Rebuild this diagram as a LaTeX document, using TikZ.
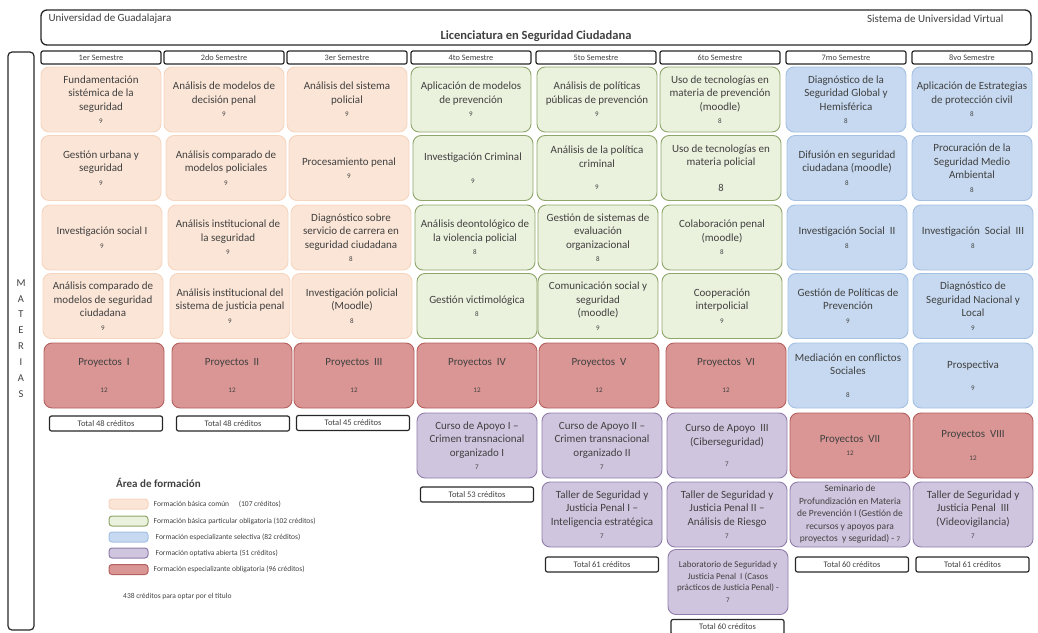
\documentclass[tikz,border=0pt]{standalone}
\usepackage{fontspec}
\setmainfont{Carlito}
\usetikzlibrary{positioning}
\definecolor{txt}{HTML}{404040}
\definecolor{peachF}{HTML}{FBE5D6}
\definecolor{peachD}{HTML}{F6D5BF}
\definecolor{greenF}{HTML}{EAF1DD}
\definecolor{greenD}{HTML}{8FA66A}
\definecolor{blueF}{HTML}{C6D9F0}
\definecolor{blueD}{HTML}{A4C0E3}
\definecolor{lilaF}{HTML}{D0C5DE}
\definecolor{lilaD}{HTML}{8F7DAA}
\definecolor{redF}{HTML}{D99694}
\definecolor{redD}{HTML}{B5605E}
\tikzset{
  course/.style={rounded corners=8pt, minimum width=120pt, minimum height=65pt, align=center,
    inner sep=2pt, line width=0.9pt, text=txt, font=\fontsize{11}{13.5}\selectfont},
  comun/.style={course, fill=peachF, draw=peachD},
  particular/.style={course, fill=greenF, draw=greenD},
  selectiva/.style={course, fill=blueF, draw=blueD},
  optativa/.style={course, fill=lilaF, draw=lilaD},
  obligatoria/.style={course, fill=redF, draw=redD},
  semhead/.style={draw=black!85, line width=1.2pt, rounded corners=2pt, minimum width=120pt,
    minimum height=13pt, inner sep=0pt, text=txt, font=\fontsize{8.3}{9}\selectfont},
  totalbox/.style={semhead, minimum width=113pt, minimum height=15pt, font=\fontsize{8.5}{9}\selectfont},
  swatch/.style={rounded corners=3pt, minimum width=39pt, minimum height=10pt, inner sep=0pt, line width=1pt},
  legtext/.style={right=5pt of #1, inner sep=0pt, text=txt, font=\fontsize{7.5}{9}\selectfont}
}
\newcommand{\cred}[2][0pt]{\\[#1]{\fontsize{7}{8}\selectfont #2}}
\begin{document}
\begin{tikzpicture}[x=1pt, y=-1pt]
  \useasboundingbox (0,0) rectangle (1038,632);
  % encabezado
  \draw[black!85, line width=1.3pt, rounded corners=6pt] (41,10) rectangle (1031,45);
  \node[anchor=west, text=txt, font=\fontsize{11}{13}\selectfont] (uni) at (45,19) {Universidad de Guadalajara};
  \node[anchor=east, text=txt, font=\fontsize{11}{13}\selectfont] (suv) at (1007,19) {Sistema de Universidad Virtual};
  \node[text=txt, font=\fontsize{12.5}{14}\selectfont\bfseries] (lic) at (536,36) {Licenciatura en Seguridad Ciudadana};
  % columna lateral
  \draw[black!85, line width=1.2pt, rounded corners=4pt] (8,52) rectangle (34,630);
  \node[align=center, text=txt, font=\fontsize{10.5}{15.9}\selectfont] (materias) at (21,338.5) {M\\A\\T\\E\\R\\I\\A\\S};
  % semestres
  \foreach \x/\s [count=\i] in {101/1er, 224/2do, 347/3er, 471/4to, 596/5to, 720/6to, 846/7mo, 972/8vo}
    \node[semhead] (s\i) at (\x,57.5) {\s\ Semestre};

  % 1er semestre
  \node[comun] (c1a) at (101,99.5) {Fundamentación\\sistémica de la\\seguridad\cred{9}};
  \node[comun] (c1b) at (101,168) {Gestión urbana y\\seguridad\cred{9}};
  \node[comun] (c1c) at (102,237.5) {Investigación social I\cred{9}};
  \node[comun] (c1d) at (103,306) {Análisis comparado de\\modelos de seguridad\\ciudadana\cred{9}};
  \node[obligatoria] (c1e) at (104,375.5) {Proyectos\ \ I\cred[14pt]{12}};
  \node[totalbox] (t1) at (106,423.5) {Total 48 créditos};
  % 2do semestre
  \node[comun] (c2a) at (224,99.5) {Análisis de modelos de\\decisión penal\cred{9}};
  \node[comun] (c2b) at (226,168) {Análisis comparado de\\modelos policiales\cred{9}};
  \node[comun] (c2c) at (228,237.5) {Análisis institucional de\\la seguridad\cred{9}};
  \node[comun] (c2d) at (230,306) {Análisis institucional del\\sistema de justicia penal\cred{9}};
  \node[obligatoria] (c2e) at (232,375.5) {Proyectos\ \ II\cred[14pt]{12}};
  \node[totalbox] (t2) at (233,423.5) {Total 48 créditos};
  % 3er semestre
  \node[comun] (c3a) at (347,99.5) {Análisis del sistema\\policial\cred{9}};
  \node[comun] (c3b) at (349,168) {Procesamiento penal\cred{9}};
  \node[comun] (c3c) at (351,237.5) {Diagnóstico sobre\\servicio de carrera en\\seguridad ciudadana\cred{8}};
  \node[comun] (c3d) at (352,306) {Investigación policial\\(Moodle)\cred{8}};
  \node[obligatoria] (c3e) at (354,375.5) {Proyectos\ \ III\cred[14pt]{12}};
  \node[totalbox] (t3) at (353,423) {Total 45 créditos};
  % 4to semestre
  \node[particular] (c4a) at (471,99.5) {Aplicación de modelos\\de prevención\cred{9}};
  \node[particular] (c4b) at (473,168) {Investigación Criminal\cred[9pt]{9}};
  \node[particular] (c4c) at (475,237.5) {Análisis deontológico de\\la violencia policial\cred{8}};
  \node[particular] (c4d) at (477,306) {Gestión victimológica\cred{8}};
  \node[obligatoria] (c4e) at (477,375.5) {Proyectos\ \ IV\cred[14pt]{12}};
  \node[optativa] (c4f) at (477,445.5) {Curso de Apoyo I –\\Crimen transnacional\\organizado I\cred{7}};
  \node[totalbox] (t4) at (477,494.5) {Total 53 créditos};
  % 5to semestre
  \node[particular] (c5a) at (597,99.5) {Análisis de políticas\\públicas de prevención\cred{9}};
  \node[particular] (c5b) at (597,168) {Análisis de la política\\criminal\cred[9pt]{9}};
  \node[particular] (c5c) at (598,237.5) {Gestión de sistemas de\\evaluación\\organizacional\cred{8}};
  \node[particular] (c5d) at (598,306) {Comunicación social y\\seguridad\\(moodle)\cred{9}};
  \node[obligatoria] (c5e) at (599,375.5) {Proyectos\ \ V\cred[14pt]{12}};
  \node[optativa] (c5f) at (602,445.5) {Curso de Apoyo II –\\Crimen transnacional\\organizado II\cred{7}};
  \node[optativa] (c5g) at (602,514.5) {Taller de Seguridad y\\Justicia Penal I –\\Inteligencia estratégica\cred{7}};
  \node[totalbox] (t5) at (602,564.5) {Total 61 créditos};
  % 6to semestre
  \node[particular] (c6a) at (720,99.5) {Uso de tecnologías en\\materia de prevención\\(moodle)\cred{8}};
  \node[particular] (c6b) at (721,168) {Uso de tecnologías en\\materia policial\\[12pt]{\fontsize{10.5}{12}\selectfont 8}};
  \node[particular] (c6c) at (722,237.5) {Colaboración penal\\(moodle)\cred{8}};
  \node[particular] (c6d) at (722,306) {Cooperación\\interpolicial\cred{9}};
  \node[obligatoria] (c6e) at (726,375.5) {Proyectos\ \ VI\cred[14pt]{12}};
  \node[optativa] (c6f) at (727,445.5) {Curso de Apoyo\ \ III\\(Ciberseguridad)\cred[8pt]{7}};
  \node[optativa] (c6g) at (727,514.5) {Taller de Seguridad y\\Justicia Penal II –\\Análisis de Riesgo\cred{7}};
  \node[optativa, font=\fontsize{9}{11.7}\selectfont] (c6h) at (728,582)
    {Laboratorio de Seguridad y\\Justicia Penal\ \ I (Casos\\prácticos de Justicia Penal) -\cred{7}};
  \node[totalbox] (t6) at (727.5,627) {Total 60 créditos};
  % 7mo semestre
  \node[selectiva] (c7a) at (846,99.5) {Diagnóstico de la\\Seguridad Global y\\Hemisférica\cred{8}};
  \node[selectiva] (c7b) at (847,168) {Difusión en seguridad\\ciudadana (moodle)\cred{8}};
  \node[selectiva] (c7c) at (847,237.5) {Investigación Social\ \ II\cred{8}};
  \node[selectiva] (c7d) at (848,306) {Gestión de Políticas de\\Prevención\cred{9}};
  \node[selectiva] (c7e) at (848,375.5) {Mediación en conflictos\\Sociales\cred[9pt]{8}};
  \node[obligatoria] (c7f) at (850,445.5) {Proyectos\ \ VII\cred{12}};
  \node[optativa, font=\fontsize{9.5}{12.5}\selectfont] (c7g) at (850,514.5)
    {Seminario de\\Profundización en Materia\\de Prevención I (Gestión de\\recursos y apoyos para\\proyectos\ \ y seguridad) - {\fontsize{7}{8}\selectfont 7}};
  \node[totalbox] (t7) at (852,564.5) {Total 60 créditos};
  % 8vo semestre
  \node[selectiva] (c8a) at (972,99.5) {Aplicación de Estrategias\\de protección civil\cred{8}};
  \node[selectiva] (c8b) at (972,168) {Procuración de la\\Seguridad Medio\\Ambiental\cred{8}};
  \node[selectiva] (c8c) at (973,237.5) {Investigación\ \ Social\ \ III\cred{8}};
  \node[selectiva] (c8d) at (973,306) {Diagnóstico de\\Seguridad Nacional y\\Local\cred{9}};
  \node[selectiva] (c8e) at (973,375.5) {Prospectiva\cred[9pt]{9}};
  \node[obligatoria] (c8f) at (973,445.5) {Proyectos\ \ VIII\cred[10pt]{12}};
  \node[optativa] (c8g) at (973,514.5) {Taller de Seguridad y\\Justicia Penal\ \ III\\(Videovigilancia)\cred{7}};
  \node[totalbox] (t8) at (972.5,564.5) {Total 61 créditos};

  % leyenda
  \node[anchor=west, inner sep=0pt, text=txt, font=\fontsize{11}{13}\selectfont\bfseries] (leg) at (116,483) {Área de formación};
  \node[swatch, fill=peachF, draw=peachD] (sw1) at (128.5,504) {};
  \node[swatch, fill=greenF, draw=greenD] (sw2) at (128.5,521) {};
  \node[swatch, fill=blueF, draw=blueD] (sw3) at (128.5,537) {};
  \node[swatch, fill=lilaF, draw=lilaD] (sw4) at (128.5,553) {};
  \node[swatch, fill=redF, draw=redD] (sw5) at (128.5,569.5) {};
  \node[legtext=sw1] (l1) {Formación básica común\hspace{8pt} (107 créditos)};
  \node[legtext=sw2] (l2) {Formación básica particular obligatoria (102 créditos)};
  \node[legtext=sw3, xshift=2pt] (l3) {Formación especializante selectiva (82 créditos)};
  \node[legtext=sw4, xshift=2pt] (l4) {Formación optativa abierta (51 créditos)};
  \node[legtext=sw5] (l5) {Formación especializante obligatoria (96 créditos)};
  \node[anchor=west, inner sep=0pt, text=txt, font=\fontsize{7.5}{9}\selectfont] (tot) at (123,596) {438 créditos para optar por el título};
\end{tikzpicture}
\end{document}
